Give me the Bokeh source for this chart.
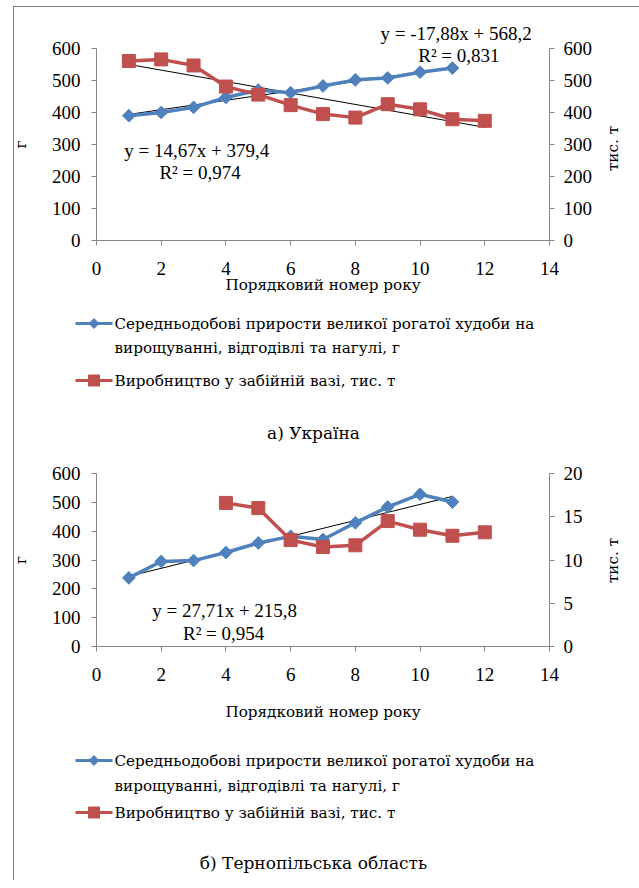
import math
from bokeh.plotting import figure
from bokeh.models import Range1d, LinearAxis, FixedTicker, Label
from bokeh.layouts import column, row
from bokeh.embed import file_html
from bokeh.resources import INLINE

# ---------------- data ----------------
x_ticks = [0, 2, 4, 6, 8, 10, 12, 14]

# a) Ukraine
ua_gain_x = [1, 2, 3, 4, 5, 6, 7, 8, 9, 10, 11]
ua_gain = [390, 400, 416, 447, 470, 462, 483, 502, 508, 526, 539]
ua_prod_x = [1, 2, 3, 4, 5, 6, 7, 8, 9, 10, 11, 12]
ua_prod = [561, 566, 547, 481, 456, 423, 395, 384, 426, 410, 379, 374]
ua_gain_trend = (14.67, 379.4)
ua_prod_trend = (-17.88, 568.2)
ua_right_ticks = [0, 100, 200, 300, 400, 500, 600]

# b) Ternopil region
te_gain_x = [1, 2, 3, 4, 5, 6, 7, 8, 9, 10, 11]
te_gain = [238, 295, 298, 326, 359, 382, 371, 429, 484, 528, 501]
te_prod_x = [4, 5, 6, 7, 8, 9, 10, 11, 12]
te_prod = [16.6, 16.0, 12.3, 11.5, 11.7, 14.5, 13.5, 12.8, 13.2]
te_gain_trend = (27.71, 215.8)
te_right_ticks = [0, 5, 10, 15, 20]

left_ticks = [0, 100, 200, 300, 400, 500, 600]

gain_label = "Середньодобові прирости  великої рогатої худоби на"
gain_label2 = "вирощуванні, відгодівлі та нагулі, г"
prod_label = "Виробництво у забійній вазі, тис. т"
x_title = "Порядковий номер року"
left_title = "г"
right_title = "тис. т"

BLUE = "#4F81BD"
RED = "#C0504D"
AXIS = "#868686"
FONT = "'Liberation Serif', 'DejaVu Serif', serif"   # digits / latin
CFONT = "'DejaVu Serif', serif"                      # cyrillic texts
FS = "19px"
TITLE_FS = "15.2px"
LEG_FS = "15.2px"
CAP_FS = "17px"
W = 625          # legend figures (start at page x 14)
BL = 94          # chart left border
BR = 55          # chart right border
CW = BL + 453 + BR
TW = 35


def no_align(p):
    try:
        p.frame_align = False
    except Exception:
        pass


def style_axis(ax):
    ax.axis_line_color = AXIS
    ax.major_tick_line_color = AXIS
    ax.major_tick_in = 0
    ax.major_tick_out = 5
    ax.minor_tick_line_color = None
    ax.major_label_text_font = FONT
    ax.major_label_text_font_size = FS
    ax.major_label_text_color = "#000000"
    ax.axis_label_text_font = CFONT
    ax.axis_label_text_font_size = TITLE_FS
    ax.axis_label_text_font_style = "normal"
    ax.axis_label_text_color = "#000000"


def chart(h, top, bottom, right_max, right_ticks, xlab_standoff, xtitle_standoff):
    p = figure(width=CW, height=h, x_range=Range1d(0, 14), y_range=Range1d(0, 600),
               output_backend="svg", toolbar_location=None,
               min_border_left=BL, min_border_right=BR,
               min_border_top=top, min_border_bottom=bottom,
               margin=(0, 0, 0, 82 - BL))
    no_align(p)
    p.border_fill_color = None
    p.extra_y_ranges = {"r": Range1d(0, right_max)}
    p.xgrid.visible = False
    p.ygrid.visible = False
    p.outline_line_color = None

    xa = p.xaxis[0]
    style_axis(xa)
    xa.ticker = FixedTicker(ticks=x_ticks)
    xa.axis_label = x_title
    xa.major_label_standoff = xlab_standoff
    xa.axis_label_standoff = xtitle_standoff

    ya = p.yaxis[0]
    style_axis(ya)
    ya.ticker = FixedTicker(ticks=left_ticks)
    ya.axis_label = left_title
    ya.major_label_standoff = 11
    ya.axis_label_standoff = 19

    ra = LinearAxis(y_range_name="r")
    style_axis(ra)
    ra.ticker = FixedTicker(ticks=right_ticks)
    ra.major_label_standoff = 9
    p.add_layout(ra, "right")
    return p


def right_title_fig(h, yc):
    t = figure(width=TW, height=h, x_range=Range1d(0, TW), y_range=Range1d(h, 0),
               output_backend="svg", toolbar_location=None, min_border=0,
               x_axis_location=None, y_axis_location=None)
    no_align(t)
    t.border_fill_color = None
    t.background_fill_color = None
    t.xgrid.visible = False
    t.ygrid.visible = False
    t.outline_line_color = None
    t.add_layout(Label(x=8, y=yc, text=right_title, angle=math.pi / 2,
                       text_font=CFONT, text_font_size=TITLE_FS, text_align="center",
                       text_baseline="middle", text_color="#000000"))
    return t


def trend(p, xs, coef, y_range_name="default"):
    x0, x1 = min(xs), max(xs)
    p.line([x0, x1], [coef[0] * x0 + coef[1], coef[0] * x1 + coef[1]],
           line_color="#000000", line_width=1, y_range_name=y_range_name)


def series(p, gx, gy, px_, py_):
    p.line(gx, gy, line_color=BLUE, line_width=3.5)
    p.scatter(gx, gy, marker="square", angle=math.pi / 4, size=9,
              fill_color=BLUE, line_color=BLUE)
    p.line(px_, py_, line_color=RED, line_width=3.5, y_range_name="r")
    p.scatter(px_, py_, marker="square", size=13, fill_color=RED,
              line_color=RED, y_range_name="r")


def eq(p, x, y, text):
    p.add_layout(Label(x=x, y=y, text=text, text_font=FONT, text_font_size=FS,
                       text_align="center", text_baseline="middle", text_color="#000000"))


def legend_fig(h, y1, y2, y3, caption, ycap):
    lp = figure(width=W, height=h, x_range=Range1d(0, W), y_range=Range1d(h, 0),
                output_backend="svg", toolbar_location=None, min_border=0,
                x_axis_location=None, y_axis_location=None)
    no_align(lp)
    lp.border_fill_color = None
    lp.background_fill_color = None
    lp.xgrid.visible = False
    lp.ygrid.visible = False
    lp.outline_line_color = None
    lp.line([61, 98], [y1, y1], line_color=BLUE, line_width=3)
    lp.scatter([79.5], [y1], marker="square", angle=math.pi / 4, size=7,
               fill_color=BLUE, line_color=BLUE)
    lp.line([61, 98], [y3, y3], line_color=RED, line_width=3)
    lp.scatter([79.5], [y3], marker="square", size=11, fill_color=RED, line_color=RED)
    for yy, t in ((y1, gain_label), (y2, gain_label2), (y3, prod_label)):
        lp.add_layout(Label(x=100, y=yy, text=t, text_font=CFONT, text_font_size=LEG_FS,
                            text_align="left", text_baseline="middle", text_color="#000000"))
    lp.add_layout(Label(x=299, y=ycap, text=caption, text_font=CFONT, text_font_size=CAP_FS,
                        text_align="center", text_baseline="middle", text_color="#000000"))
    return lp


# ---- a) Ukraine
H1 = 293
c1 = chart(H1, 41, 60, 600, ua_right_ticks, 16, -2)
trend(c1, ua_gain_x, ua_gain_trend)
trend(c1, ua_prod_x, ua_prod_trend, "r")
series(c1, ua_gain_x, ua_gain, ua_prod_x, ua_prod)
c1.title.text = "y = -17,88x + 568,2"
c1.title.align = "left"
c1.title.offset = 284
c1.title.standoff = 9
c1.title.text_font = FONT
c1.title.text_font_size = FS
c1.title.text_font_style = "normal"
c1.title.text_color = "#000000"
eq(c1, 11.2, 578, "R² = 0,831")
eq(c1, 3.1, 281, "y = 14,67x + 379,4")
eq(c1, 3.2, 212, "R² = 0,974")
t1 = right_title_fig(H1, 141)
l1 = legend_fig(150, 23, 47, 80, "а) Україна", 132)

# ---- b) Ternopil
H2 = 280
c2 = chart(H2, 23, 84, 20, te_right_ticks, 16, 19)
trend(c2, te_gain_x, te_gain_trend)
series(c2, te_gain_x, te_gain, te_prod_x, te_prod)
eq(c2, 3.96, 125, "y = 27,71x + 215,8")
eq(c2, 3.93, 45, "R² = 0,954")
t2 = right_title_fig(H2, 110)
l2 = legend_fig(150, 30, 55, 82, "б) Тернопільська область", 132)

layout = column(row(c1, t1), l1, row(c2, t2), l2, margin=(6, 0, 0, 13),
                styles={"border-left": "1px solid #7f7f7f", "border-top": "1px solid #7f7f7f"})

open("out.html", "w").write(file_html(layout, INLINE))
